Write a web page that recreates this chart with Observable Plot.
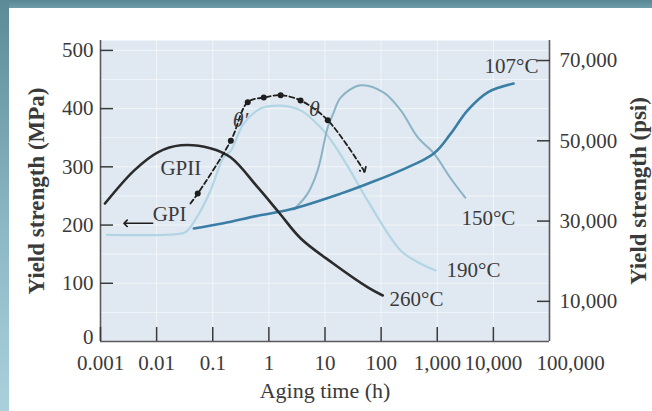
<!DOCTYPE html>
<html><head><meta charset="utf-8">
<script src="https://cdn.jsdelivr.net/npm/d3@7"></script>
<script src="https://cdn.jsdelivr.net/npm/@observablehq/plot@0.6"></script>
<style>
html,body{margin:0;padding:0;background:#fff;}
#wrap{position:relative;width:652px;height:411px;overflow:hidden;background:#fff;}
#bandTop{position:absolute;left:0;top:0;width:652px;height:8px;background:linear-gradient(#588793,#6e9ca8);}
#bandLeft{position:absolute;left:0;top:0;width:9px;height:411px;background:linear-gradient(#5c8b97,#8cb7c5 55%,#aad0dc);}
#chart{position:absolute;left:0;top:0;}
</style></head><body>
<div id="wrap"><div id="bandTop"></div><div id="bandLeft"></div><div id="chart"></div></div>
<script>
// Axis ticks
const xTicks = [0.001, 0.01, 0.1, 1, 10, 100, 1000, 10000, 100000];
const xTickLabels = ["0.001", "0.01", "0.1", "1", "10", "100", "1,000", "10,000", "100,000"];
const yTicks = [0, 100, 200, 300, 400, 500];
const yGrid = [50, 100, 150, 200, 250, 300, 350, 400, 450, 500];
const psiTicks = [10000, 30000, 50000, 70000];
const psiTickLabels = ["10,000", "30,000", "50,000", "70,000"];
const MPA_PER_PSI = 0.00689476;

// Series: aging time (h) and yield strength (MPa)
const t260 = [0.0012, 0.004, 0.0105, 0.027, 0.09, 0.21, 0.63, 1.5, 3.7, 14, 58, 107];
const y260 = [237, 294, 325, 337, 332, 316, 265, 222, 177, 134, 93, 79];

const t190 = [0.0013, 0.02, 0.033, 0.054, 0.091, 0.155, 0.21, 0.355, 0.71, 1.62, 3.67, 8.3, 14.1, 28, 57.5, 224, 500, 933];
const y190 = [183, 184, 188, 216, 259, 316, 328, 374, 400, 405, 397, 368, 340, 294, 242, 156, 134, 122];

const t150 = [2.8, 4.9, 7.4, 11.2, 14.1, 19, 42.6, 110, 224, 447, 870, 1740, 3160];
const y150 = [227, 254, 294, 368, 392, 419, 440, 428, 397, 351, 323, 280, 247];

const t107 = [0.046, 0.155, 0.63, 2.45, 19, 57.5, 224, 870, 1740, 3470, 7940, 22900];
const y107 = [194, 203, 216, 227, 254, 271, 294, 323, 357, 397, 428, 443];

// Precipitation sequence path (GPI -> GPII -> theta' -> theta)
const tSeq = [0.04, 0.054, 0.21, 0.42, 0.81, 1.62, 3.67, 11.2, 49];
const ySeq = [237, 254, 345, 411, 419, 423, 414, 380, 294];

// GPI arrow
const gpiArrowT = [0.0085, 0.0028];
const gpiArrowY = [203, 203];

// Curve labels
const labelText = ["260°C", "190°C", "150°C", "107°C", "GPI", "GPII"];
const labelT = [141, 1462, 2700, 6950, 0.0085, 0.0117];
const labelY = [72, 122, 211, 472, 218, 297];

const thetaText = ["θ′", "θ"];
const thetaT = [0.313, 6.5];
const thetaY = [381, 400];

const rows = (ts, ys) => ts.map((h, i) => ({h, mpa: ys[i]}));
const psiMPa = psiTicks.map(p => p * MPA_PER_PSI);
const ink = "#3a3a3a";

const chart = Plot.plot({
  width: 652, height: 411,
  marginLeft: 100, marginRight: 103, marginTop: 40, marginBottom: 70,
  style: {background: "transparent", fontFamily: "'Liberation Serif', 'Times New Roman', serif", fontSize: "21px", color: ink},
  x: {type: "log", domain: [0.001, 100000], label: null},
  y: {domain: [0, 517], label: null},
  marks: [
    Plot.frame({fill: "#e0e9f1", stroke: null}),
    Plot.gridX(xTicks, {stroke: "white", strokeOpacity: 0.55, strokeWidth: 1}),
    Plot.gridY(yGrid, {stroke: "white", strokeOpacity: 0.55, strokeWidth: 1}),
    Plot.ruleX([0.001, 100000], {stroke: "#5a5a5a", strokeWidth: 1.6}),
    Plot.ruleY([0], {stroke: "#5a5a5a", strokeWidth: 1.6}),
    Plot.axisY(yTicks.slice(1), {anchor: "left", tickSize: -13, tickPadding: 20, fontSize: 21, color: ink, strokeWidth: 1.5, label: null}),
    Plot.axisY(yTicks.slice(0, 1), {anchor: "left", tickSize: 0, tickPadding: 7, dy: -4, fontSize: 21, color: ink, label: null}),
    Plot.axisY(psiMPa, {anchor: "right", tickSize: -13, tickPadding: 23, fontSize: 21, color: ink, strokeWidth: 1.5, label: null,
      tickFormat: d => psiTickLabels[psiMPa.indexOf(d)]}),
    Plot.axisX(xTicks.slice(0, 8), {anchor: "bottom", tickSize: -14, tickPadding: 28, fontSize: 21, color: ink, strokeWidth: 1.5, label: null,
      tickFormat: d => xTickLabels[xTicks.indexOf(d)]}),
    Plot.axisX(xTicks.slice(8), {anchor: "bottom", tickSize: 0, tickPadding: 14, dx: 21, fontSize: 21, color: ink, label: null,
      tickFormat: d => xTickLabels[xTicks.indexOf(d)]}),
    Plot.line(rows(t190, y190), {x: "h", y: "mpa", curve: "catmull-rom", stroke: "#b2d5e6", strokeWidth: 2.2}),
    Plot.line(rows(t150, y150), {x: "h", y: "mpa", curve: "catmull-rom", stroke: "#8bb3c6", strokeWidth: 2}),
    Plot.line(rows(t107, y107), {x: "h", y: "mpa", curve: "catmull-rom", stroke: "#3b7ea5", strokeWidth: 2.6}),
    Plot.line(rows(t260, y260), {x: "h", y: "mpa", curve: "catmull-rom", stroke: "#2b2b2b", strokeWidth: 2.6}),
    Plot.line(rows(tSeq, ySeq), {x: "h", y: "mpa", curve: "catmull-rom", stroke: "#1e1e1e", strokeWidth: 1.8,
      strokeDasharray: "5,3", markerMid: "dot", markerEnd: "arrow"}),
    Plot.line(rows(gpiArrowT, gpiArrowY), {x: "h", y: "mpa", stroke: "#1e1e1e", strokeWidth: 1.6, markerEnd: "arrow"}),
    Plot.text(labelText, {x: (d, i) => labelT[i], y: (d, i) => labelY[i], text: d => d, textAnchor: "start", fontSize: 21, fill: ink}),
    Plot.text(thetaText, {x: (d, i) => thetaT[i], y: (d, i) => thetaY[i], text: d => d, fontSize: 22, fontStyle: "italic", fill: ink}),
    Plot.text(["Yield strength (MPa)"], {frameAnchor: "left", textAnchor: "middle", rotate: -90, dx: -64, text: d => d, fontSize: 23, fontWeight: "bold", fill: ink}),
    Plot.text(["Yield strength (psi)"], {frameAnchor: "right", textAnchor: "middle", rotate: -90, dx: 89, text: d => d, fontSize: 23, fontWeight: "bold", fill: ink}),
    Plot.text(["Aging time (h)"], {frameAnchor: "bottom", dy: 56, text: d => d, fontSize: 22, fill: ink})
  ]
});
document.getElementById("chart").appendChild(chart);
</script>
</body></html>
